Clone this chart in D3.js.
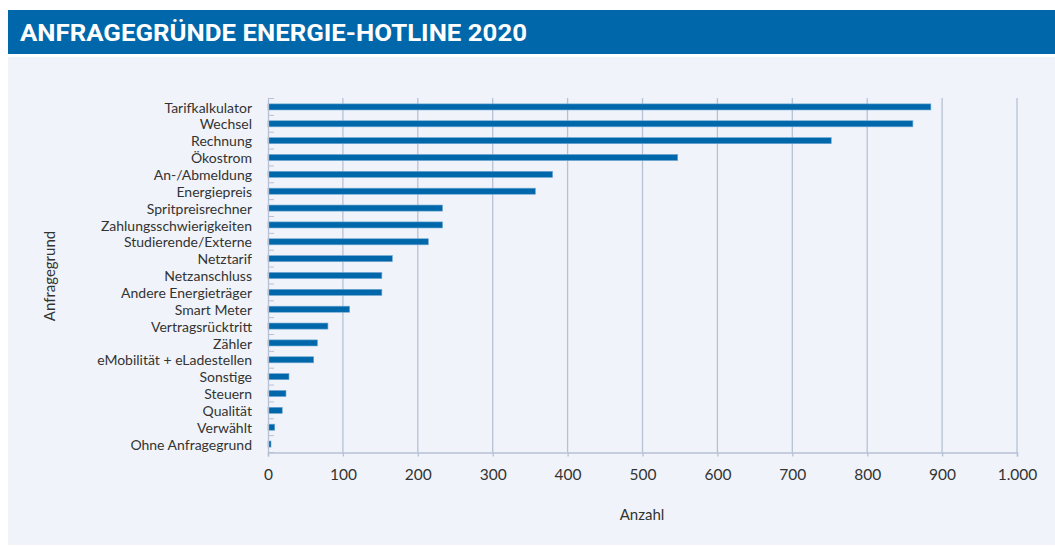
<!DOCTYPE html>
<html><head><meta charset="utf-8">
<script src="https://cdn.jsdelivr.net/npm/d3@7"></script>
<style>
html,body{margin:0;padding:0;background:#fff;}
svg{display:block;}
</style></head>
<body>
<script>
const categories = ["Tarifkalkulator","Wechsel","Rechnung","Ökostrom","An-/Abmeldung","Energiepreis","Spritpreisrechner","Zahlungsschwierigkeiten","Studierende/Externe","Netztarif","Netzanschluss","Andere Energieträger","Smart Meter","Vertragsrücktritt","Zähler","eMobilität + eLadestellen","Sonstige","Steuern","Qualität","Verwählt","Ohne Anfragegrund"];
const values = [885,861,752,547,380,357,233,233,214,166,152,152,109,80,66,61,28,24,19,9,4];
const xTicks = [0,100,200,300,400,500,600,700,800,900,1000];
const title = "ANFRAGEGRÜNDE ENERGIE-HOTLINE 2020";
const xTitle = "Anzahl";
const yTitle = "Anfragegrund";

const W = 1055, H = 547;
const svg = d3.select("body").append("svg").attr("width", W).attr("height", H);
const labelFont = "Lato,'Open Sans',Arial,sans-serif";

// title bar
svg.append("rect").attr("x",8).attr("y",10).attr("width",W-8).attr("height",44).attr("fill","#0068aa");
svg.append("text").attr("x",20).attr("y",40.5).attr("fill","#fff")
  .attr("font-family","Roboto,'Liberation Sans',sans-serif")
  .attr("font-weight","bold").attr("font-size",23.5)
  .attr("textLength",507).attr("lengthAdjust","spacingAndGlyphs").text(title);
// panel
svg.append("rect").attr("x",8).attr("y",57).attr("width",W-8).attr("height",488).attr("fill","#f0f3f9");

const x = d3.scaleLinear().domain([0,1000]).range([268,1017]);
const y = d3.scaleBand().domain(categories).range([98.5,452.5]).paddingInner(0.64).paddingOuter(0.32);

const gridColor = "#b7c1d6";
const fmt = v => v >= 1000 ? d3.format(",")(v).replace(/,/g,".") : String(v);

// gridlines
svg.append("g").selectAll("line").data(xTicks.slice(1)).join("line")
  .attr("x1",d=>x(d)).attr("x2",d=>x(d)).attr("y1",98).attr("y2",452.5)
  .attr("stroke",gridColor).attr("stroke-width",1.3);

// bars
svg.append("g").selectAll("rect").data(values).join("rect")
  .attr("x",x(0)).attr("y",(d,i)=>y(categories[i]))
  .attr("width",d=>x(d)-x(0)).attr("height",y.bandwidth())
  .attr("fill","#0068aa").attr("stroke","#6fa6d3").attr("stroke-width",0.6);

// x axis
const xAxis = d3.axisBottom(x).tickValues(xTicks).tickSize(4).tickPadding(12).tickFormat(fmt);
const gx = svg.append("g").attr("transform","translate(0,452.5)").call(xAxis);
gx.select(".domain").attr("stroke",gridColor).attr("stroke-width",1.5);
gx.selectAll(".tick line").attr("stroke",gridColor).attr("stroke-width",1.3);
gx.selectAll(".tick text").attr("fill","#333").attr("font-size",15.5)
  .attr("font-family",labelFont);

// y axis
const yAxis = d3.axisLeft(y).tickSize(0).tickPadding(16);
const gy = svg.append("g").attr("transform","translate(268,0)").call(yAxis);
gy.select(".domain").attr("stroke",gridColor).attr("stroke-width",1.3);
gy.selectAll(".tick text").attr("fill","#333").attr("font-size",14)
  .attr("font-family",labelFont).attr("dy","0.4em");
// small boundary ticks
const bounds = d3.range(categories.length+1).map(i=>98.5+i*y.step());
svg.append("g").selectAll("line").data(bounds).join("line")
  .attr("x1",268).attr("x2",274).attr("y1",d=>d).attr("y2",d=>d)
  .attr("stroke",gridColor).attr("stroke-width",1);

// axis titles
svg.append("text").attr("x",642).attr("y",520).attr("text-anchor","middle")
  .attr("font-family",labelFont).attr("font-size",15).attr("fill","#333").text(xTitle);
svg.append("text").attr("transform","translate(55,276) rotate(-90)").attr("text-anchor","middle")
  .attr("font-family",labelFont).attr("font-size",15).attr("fill","#333").text(yTitle);
</script>
</body></html>
